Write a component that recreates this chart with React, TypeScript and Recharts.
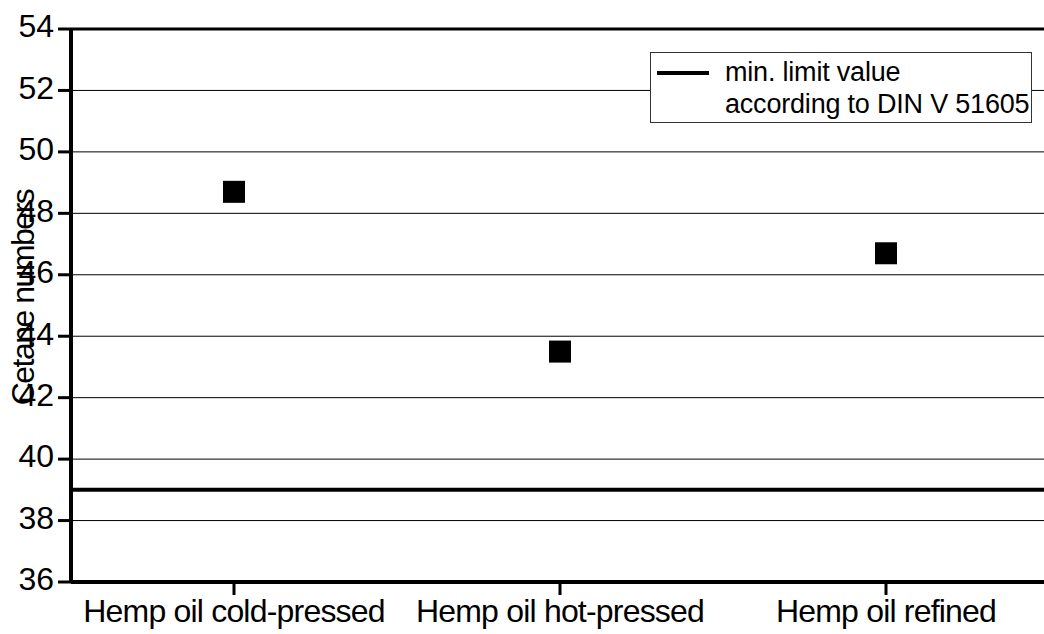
import React from 'react';
import {
  ComposedChart,
  Scatter,
  XAxis,
  YAxis,
  CartesianGrid,
  ReferenceLine,
  Legend
} from 'recharts';

const oils = ['Hemp oil cold-pressed', 'Hemp oil hot-pressed', 'Hemp oil refined'];
const cetaneNumbers = [48.7, 43.5, 46.7];
const yTicks = [36, 38, 40, 42, 44, 46, 48, 50, 52, 54];
const minLimit = 39;
const legendLines = ['min. limit value', 'according to DIN V 51605'];

const data = oils.map((oil, i) => ({ oil, cetane: cetaneNumbers[i] }));

const font = '"Liberation Sans", Arial, sans-serif';

// filled black square marker
const Square = (props: any) => {
  const { cx, cy } = props;
  if (cx == null || cy == null) return null;
  return <rect x={cx - 11} y={cy - 11} width={22} height={22} fill="#000" />;
};

const YLabel = (props: any) => {
  const { viewBox } = props;
  const x = viewBox.x + 23;
  const y = viewBox.y + viewBox.height / 2 - 8;
  return (
    <text
      x={x}
      y={y}
      transform={`rotate(-90 ${x} ${y})`}
      textAnchor="middle"
      dominantBaseline="central"
      fontSize={32}
      letterSpacing={-1.5}
      fontFamily={font}
      fill="#000"
    >
      Cetane numbers
    </text>
  );
};

const LimitLegend = () => (
  <div
    style={{
      width: 380,
      height: 69,
      background: '#fff',
      border: '1px solid #333',
      position: 'relative',
      fontFamily: font,
      fontSize: 27,
      letterSpacing: -0.2,
      color: '#000'
    }}
  >
    <div style={{ position: 'absolute', left: 6, top: 18, width: 52, height: 4, background: '#000' }} />
    <div style={{ position: 'absolute', left: 74, top: 3, lineHeight: '32px', whiteSpace: 'nowrap' }}>
      {legendLines.map(l => (
        <div key={l}>{l}</div>
      ))}
    </div>
  </div>
);

export default function App() {
  return (
    <div style={{ position: 'absolute', left: 0, top: 0, width: 1044, height: 634, overflow: 'hidden', background: '#fff' }}>
      <ComposedChart
        width={1060}
        height={634}
        data={data}
        margin={{ top: 29, right: 11, bottom: 0, left: 0 }}
      >
        <CartesianGrid vertical={false} stroke="#000" strokeWidth={1} />
        <XAxis
          dataKey="oil"
          type="category"
          scale="band"
          height={52}
          axisLine={{ stroke: '#000', strokeWidth: 4 }}
          tickLine={{ stroke: '#000', strokeWidth: 3 }}
          tickSize={13}
          tick={{ fontSize: 32, letterSpacing: -0.8, fill: '#000', fontFamily: font, dy: 2 }}
          interval={0}
        />
        <YAxis
          domain={[36, 54]}
          ticks={yTicks}
          width={71}
          axisLine={{ stroke: '#000', strokeWidth: 4 }}
          tickLine={{ stroke: '#000', strokeWidth: 3 }}
          tickSize={13}
          tickMargin={4}
          tick={{ fontSize: 32, fill: '#000', fontFamily: font, dy: -3 }}
          label={YLabel}
        />
        <ReferenceLine y={54} stroke="#000" strokeWidth={3} />
        <ReferenceLine y={minLimit} stroke="#000" strokeWidth={4} />
        <Scatter dataKey="cetane" shape={Square} isAnimationActive={false} />
        <Legend
          layout="horizontal"
          verticalAlign="middle"
          align="center"
          wrapperStyle={{ left: 650, top: 52, width: 'auto' }}
          content={LimitLegend}
        />
      </ComposedChart>
    </div>
  );
}
